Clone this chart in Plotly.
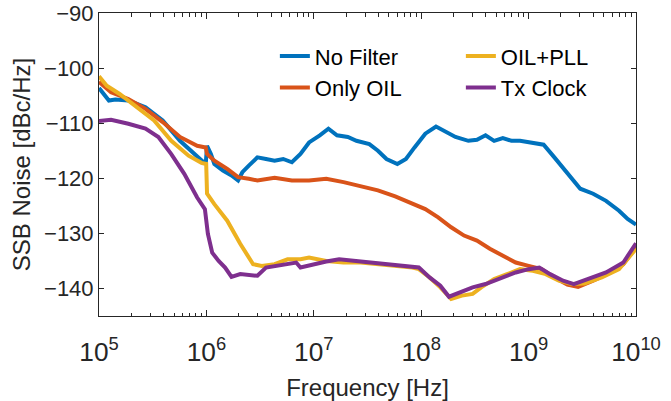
import plotly.graph_objects as go

# ---- data (frequency as log10(Hz), SSB noise in dBc/Hz) ----
nofilter_logf = [5.000, 5.092, 5.152, 5.273, 5.433, 5.593, 5.754, 5.914, 5.974, 5.994, 6.006, 6.042, 6.074, 6.154,
                 6.234, 6.295, 6.335, 6.395, 6.475, 6.555, 6.635, 6.715, 6.796, 6.876, 6.956, 7.056, 7.136, 7.216,
                 7.317, 7.397, 7.517, 7.597, 7.677, 7.778, 7.858, 7.938, 8.038, 8.138, 8.238, 8.319, 8.439, 8.519,
                 8.599, 8.679, 8.760, 8.840, 8.920, 9.040, 9.140, 9.240, 9.361, 9.481, 9.601, 9.721, 9.842, 9.922, 10.0]
nofilter_db = [-103.6, -105.9, -105.7, -105.9, -107.1, -109.5, -113.2, -116.2, -117.1, -117.3, -114.1, -115.6, -117.4, -118.6,
               -119.5, -120.4, -118.9, -117.7, -116.2, -116.5, -116.8, -116.5, -117.1, -115.6, -113.5, -112.2, -111.0, -112.2,
               -112.5, -113.2, -113.8, -115.0, -116.5, -117.4, -116.5, -114.4, -111.9, -110.6, -111.6, -112.5, -113.2, -113.0,
               -112.2, -113.2, -112.7, -113.2, -113.2, -113.5, -113.9, -116.2, -119.2, -121.9, -122.8, -124.1, -125.9, -127.4, -128.4]

onlyoil_logf = [5.000, 5.112, 5.273, 5.433, 5.593, 5.754, 5.914, 5.994, 6.006, 6.074, 6.194, 6.295, 6.395, 6.475,
                6.635, 6.796, 6.956, 7.116, 7.277, 7.437, 7.597, 7.758, 7.918, 8.038, 8.158, 8.279, 8.399, 8.519,
                8.639, 8.760, 8.880, 9.000, 9.120, 9.240, 9.361, 9.461, 9.601, 9.762, 9.882, 10.0]
onlyoil_db = [-102.5, -104.4, -105.6, -107.4, -109.8, -112.5, -114.1, -114.4, -115.6, -116.8, -118.3, -119.8, -120.1, -120.4,
              -119.9, -120.4, -120.4, -120.1, -120.7, -121.5, -122.2, -123.3, -124.7, -125.6, -127.1, -128.9, -130.4, -131.3,
              -132.8, -134.1, -135.3, -135.9, -136.5, -138.0, -139.3, -139.7, -138.6, -137.1, -135.6, -132.5]

oilpll_logf = [5.000, 5.072, 5.192, 5.353, 5.513, 5.673, 5.834, 5.954, 5.998, 6.006, 6.074, 6.194, 6.315, 6.435,
               6.515, 6.635, 6.756, 6.876, 6.956, 7.116, 7.277, 7.437, 7.597, 7.758, 7.918, 7.978, 8.078, 8.178,
               8.279, 8.379, 8.479, 8.559, 8.679, 8.800, 8.920, 9.040, 9.160, 9.281, 9.401, 9.521, 9.681, 9.842, 10.0]
oilpll_db = [-101.5, -103.2, -104.7, -107.1, -109.5, -113.2, -115.9, -117.2, -117.4, -122.8, -124.7, -127.7, -131.9, -135.6,
             -135.9, -135.6, -134.7, -134.7, -134.4, -135.0, -135.3, -135.3, -135.6, -135.9, -136.2, -136.5, -138.0, -139.8,
             -141.9, -141.3, -141.0, -139.8, -138.3, -137.4, -136.5, -136.8, -137.4, -138.6, -139.2, -139.1, -138.0, -136.5, -132.8]

txclock_logf = [5.000, 5.112, 5.273, 5.433, 5.553, 5.673, 5.794, 5.914, 5.986, 6.014, 6.054, 6.114, 6.174, 6.234,
                6.315, 6.475, 6.555, 6.715, 6.836, 6.876, 6.996, 7.116, 7.236, 7.437, 7.597, 7.798, 7.978, 8.078,
                8.178, 8.259, 8.359, 8.479, 8.599, 8.760, 8.880, 9.000, 9.100, 9.200, 9.321, 9.421, 9.561, 9.721, 9.882, 10.0]
txclock_db = [-109.6, -109.4, -110.1, -111.0, -112.5, -115.6, -119.2, -123.5, -125.6, -130.1, -133.5, -135.0, -136.2, -137.9,
              -137.4, -137.7, -136.2, -135.6, -135.3, -136.2, -135.6, -135.1, -134.7, -135.1, -135.5, -135.9, -136.2, -138.0,
              -139.5, -141.5, -140.7, -139.8, -139.2, -138.0, -137.1, -136.5, -136.2, -137.4, -138.6, -139.2, -138.3, -137.1, -135.3, -131.8]

series_names = ["No Filter", "Only OIL", "OIL+PLL", "Tx Clock"]
series_logf = [nofilter_logf, onlyoil_logf, oilpll_logf, txclock_logf]
series_db = [nofilter_db, onlyoil_db, oilpll_db, txclock_db]
series_colors = ["#0072BD", "#D95319", "#EDB120", "#7E2F8E"]
legend_ranks = [1, 3, 2, 4]

y_ticks = [-140, -130, -120, -110, -100, -90]
x_decades = [5, 6, 7, 8, 9]
minor_multipliers = [2, 3, 4, 5, 6, 7, 8, 9]

FONT = "Liberation Sans, Arial, sans-serif"
AX = "#262626"

fig = go.Figure()
for name, lf, db, col, rk in zip(series_names, series_logf, series_db, series_colors, legend_ranks):
    fig.add_trace(go.Scatter(
        x=[10 ** v for v in lf], y=db, mode="lines", name=name,
        line=dict(color=col, width=4), legendrank=rk,
    ))

# carrier trace so the minor-tick axis gets drawn (no visible marks)
minor_vals = [m * 10 ** d for d in x_decades for m in minor_multipliers]
fig.add_trace(go.Scatter(
    x=[minor_vals[0], minor_vals[-1]], y=[None, None], xaxis="x2", yaxis="y",
    mode="lines", showlegend=False, hoverinfo="skip",
))

fig.update_layout(
    width=671, height=401,
    margin=dict(l=99, r=35, t=13, b=85),
    paper_bgcolor="white", plot_bgcolor="white",
    font=dict(family=FONT, color=AX, size=21),
    legend=dict(
        orientation="h", x=0.3275, y=0.927, xanchor="left", yanchor="top",
        bgcolor="rgba(0,0,0,0)", font=dict(size=22, color="black"),
        entrywidth=141, entrywidthmode="pixels", traceorder="normal",
    ),
    showlegend=True,
    xaxis=dict(
        type="log", range=[5, 10], dtick=1, exponentformat="power",
        showgrid=False, zeroline=False, automargin=False,
        showline=True, linecolor=AX, linewidth=1, mirror="ticks",
        ticks="inside", ticklen=6, tickcolor=AX, tickwidth=1,
        tickfont=dict(size=21, color=AX), ticklabelstandoff=14,
        title=dict(text="Frequency [Hz]", font=dict(size=24, color=AX), standoff=13),
    ),
    xaxis2=dict(
        type="log", range=[5, 10], overlaying="x", side="bottom", anchor="y",
        tickvals=minor_vals, showticklabels=False, showgrid=False, zeroline=False,
        ticks="inside", ticklen=3.5, tickcolor=AX, tickwidth=1,
        showline=True, linecolor=AX, linewidth=1, mirror="ticks", automargin=False,
    ),
    yaxis=dict(
        range=[-145, -90], tickvals=y_ticks,
        showgrid=False, zeroline=False, automargin=False,
        showline=True, linecolor=AX, linewidth=1, mirror="ticks",
        ticks="inside", ticklen=5, tickcolor=AX, tickwidth=1,
        tickfont=dict(size=22, color=AX),
        title=dict(text="SSB Noise [dBc/Hz]", font=dict(size=24, color=AX), standoff=6),
    ),
)

fig.write_html("out.html", config={"displayModeBar": False},
               post_script="document.body.style.margin='0';")
